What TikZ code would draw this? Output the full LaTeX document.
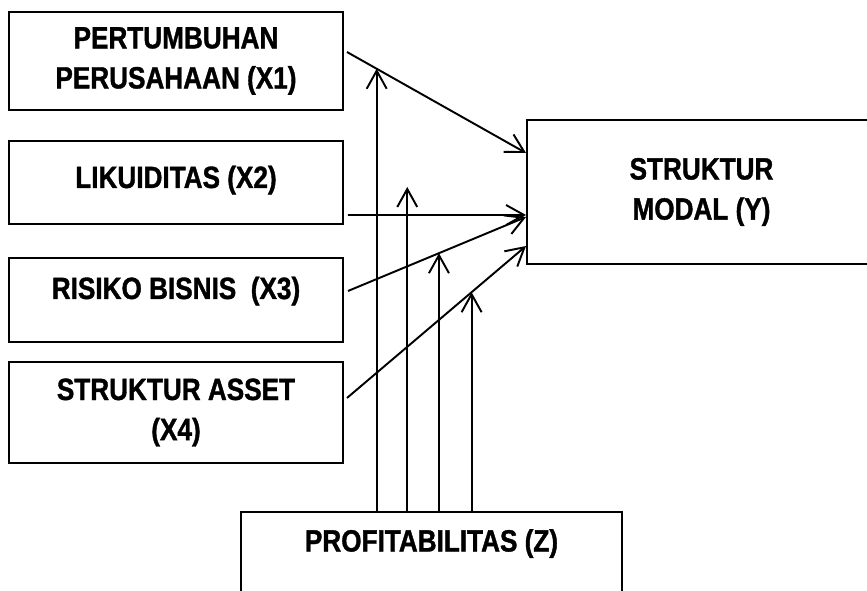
\documentclass[tikz,border=0pt]{standalone}
\usepackage{fontspec}
\setmainfont[FakeStretch=0.85,BoldFeatures={FakeBold=1.2}]{Liberation Sans}
\usetikzlibrary{arrows.meta}

\begin{document}
\begin{tikzpicture}[line width=1.1pt,
  >={Straight Barb[length=3.6mm,width=4mm]},
  varbox/.style={draw,rectangle,align=center,inner sep=0pt,
    font=\fontsize{17.5}{22.8}\selectfont\bfseries}]
  \useasboundingbox (0,0) rectangle (17.34,11.8);

  % independent variables
  \node[varbox,minimum width=6.68cm,minimum height=1.96cm] (x1) at (3.52,10.58)
    {PERTUMBUHAN\\PERUSAHAAN (X1)};
  \node[varbox,minimum width=6.68cm,minimum height=1.66cm,
    text height=0.46cm,text depth=0.24cm] (x2) at (3.52,8.15) {LIKUIDITAS (X2)};
  \node[varbox,minimum width=6.68cm,minimum height=1.68cm,
    text height=0.46cm,text depth=0.5cm] (x3) at (3.52,5.8) {RISIKO BISNIS\ \ (X3)};
  \node[varbox,minimum width=6.68cm,minimum height=2.02cm] (x4) at (3.52,3.55)
    {STRUKTUR ASSET\\(X4)};

  % dependent variable
  \node[varbox,minimum width=6.98cm,minimum height=2.88cm] (y) at (14.03,7.96)
    {STRUKTUR\\MODAL (Y)};

  % moderating variable
  \node[varbox,minimum width=7.62cm,minimum height=1.76cm,
    text height=0.46cm,text depth=0.64cm] (z) at (8.63,0.68) {PROFITABILITAS (Z)};

  % direct effects
  \draw[->] ([shift={(0.06,0.18)}]x1.east) -- coordinate[pos=0.166] (m1) ([yshift=0.78cm]y.west);
  \draw[->] ([shift={(0.08,-0.65)}]x2.east) -- coordinate[pos=0.333] (m2) ([yshift=-0.46cm]y.west);
  \draw[->] ([shift={(0.08,0.18)}]x3.east) -- coordinate[pos=0.511] (m3) ([yshift=-0.5cm]y.west);
  \draw[->] ([shift={(0.06,0.29)}]x4.east) -- coordinate[pos=0.696] (m4) ([yshift=-1.08cm]y.west);

  % moderation
  \coordinate (m2top) at ([yshift=0.56cm]m2);
  \foreach \m in {m1,m2top,m3,m4}{
    \draw[->] (z.north -| \m) -- (\m);
  }
\end{tikzpicture}
\end{document}
